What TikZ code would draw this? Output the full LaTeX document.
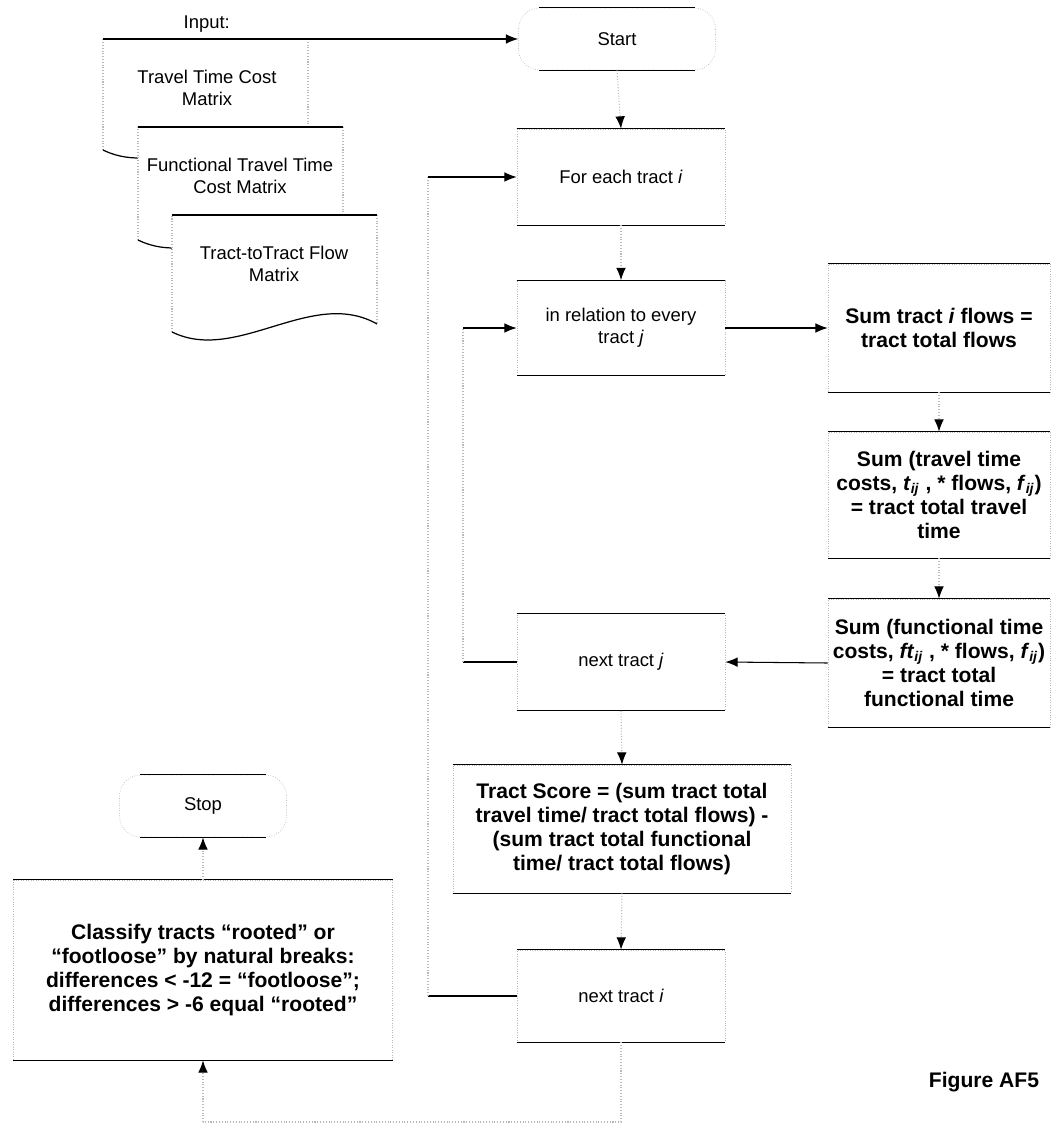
\documentclass[tikz,border=0pt]{standalone}
\usepackage{fontspec}
\setmainfont{Liberation Sans}
\usetikzlibrary{arrows.meta}

\tikzset{
  doctext/.style={align=center, font=\fontsize{10.5}{12.5}\selectfont},
  stepbox/.style={doctext, draw=gray!55, densely dotted, inner sep=2pt},
  bigbox/.style={stepbox, font=\bfseries\fontsize{12}{13.8}\selectfont},
  termbox/.style={stepbox, rounded corners=12pt},
  rim/.style={line width=0.7pt},
  faint/.style={draw=gray!55, densely dotted, line width=0.6pt},
  flow/.style={line width=0.6pt, -{Latex[length=7pt,width=5.5pt]}},
  faintflow/.style={faint, -{Latex[length=7pt,width=5.5pt,color=black]}},
}

\begin{document}
\begin{tikzpicture}[x=0.02cm, y=-0.02cm]
    \useasboundingbox (0,0) rectangle (1053,1124);

    % Stacked input documents
    \foreach \l/\t/\b in {103/39/150, 138/127/240, 172/215/332} {
        \fill[white] (\l,\b) -- (\l,\t) -- (\l+205,\t) -- (\l+205,\b-8)
            .. controls (\l+140,\b-45) and (\l+65,\b+32) .. (\l,\b);
        \draw[faint] (\l,\b) -- (\l,\t) (\l+205,\t) -- (\l+205,\b-8);
        \draw[rim] (\l,\t) -- (\l+205,\t);
        \draw[rim] (\l+205,\b-8) .. controls (\l+140,\b-45) and (\l+65,\b+32) .. (\l,\b);
    }
    \node[doctext] (costm) at (207,88) {Travel Time Cost\\Matrix};
    \node[doctext] (funcm) at (240,176) {Functional Travel Time\\Cost Matrix};
    \node[doctext] (flowm) at (274,264) {Tract-toTract Flow\\Matrix};

    % Main column
    \node[termbox, minimum width=3.94cm, minimum height=1.24cm] (start) at (617,39) {Start};
    \node[stepbox, minimum width=4.16cm, minimum height=1.92cm] (fort) at (621,177) {For each tract \textit{i}};
    \node[stepbox, minimum width=4.16cm, minimum height=1.9cm] (rel) at (621,328) {in relation to every\\tract \textit{j}};
    \node[stepbox, minimum width=4.16cm, minimum height=1.94cm] (nextj) at (621,662) {next tract \textit{j}};
    \node[bigbox, minimum width=6.76cm, minimum height=2.56cm] (score) at (622,829)
        {Tract Score = (sum tract total\\travel time/ tract total flows) -\\(sum tract total functional\\time/ tract total flows)};
    \node[stepbox, minimum width=4.16cm, minimum height=1.84cm] (nexti) at (621,996) {next tract \textit{i}};

    % Right column
    \node[bigbox, minimum width=4.44cm, minimum height=2.56cm] (sumf) at (939,328)
        {Sum tract \textit{i} flows =\\tract total flows};
    \node[bigbox, minimum width=4.44cm, minimum height=2.52cm] (sumt) at (939,495)
        {Sum (travel time\\costs, \textit{t}\textsubscript{\textit{ij}} , * flows, \textit{f}\textsubscript{\textit{ij}})\\= tract total travel\\time};
    \node[bigbox, minimum width=4.44cm, minimum height=2.56cm] (sumft) at (939,663)
        {Sum (functional time\\costs, \textit{ft}\textsubscript{\textit{ij}} , * flows, \textit{f}\textsubscript{\textit{ij}})\\= tract total\\functional time};

    % Left bottom
    \node[termbox, minimum width=3.34cm, minimum height=1.24cm] (stop) at (203,806) {Stop};
    \node[bigbox, minimum width=7.58cm, minimum height=3.6cm] (classify) at (203,970)
        {Classify tracts ``rooted'' or\\``footloose'' by natural breaks:\\differences < -12 = ``footloose'';\\differences > -6 equal ``rooted''};

    \node[font=\bfseries\fontsize{12}{14}\selectfont] (figlbl) at (984,1082) {Figure AF5};

    % Solid top and bottom rims
    \foreach \n in {fort,rel,nextj,score,nexti,sumf,sumt,sumft,classify}
        \draw[rim] (\n.north west) -- (\n.north east) (\n.south west) -- (\n.south east);
    \foreach \n in {start,stop}
        \draw[rim] ([xshift=12pt]\n.north west) -- ([xshift=-12pt]\n.north east)
            ([xshift=12pt]\n.south west) -- ([xshift=-12pt]\n.south east);

    % Connectors
    \coordinate (docin) at (103,39);
    \coordinate (jx) at (463,0);
    \coordinate (ix) at (428,0);
    \coordinate (bot) at (0,1122);
    \draw[flow] (docin) -- node[pos=0.25, above=0pt, doctext] (inlbl) {Input:} (start.west);
    \draw[faintflow] (start.south) -- (fort.north);
    \draw[faintflow] (fort.south) -- (rel.north);
    \draw[flow] (rel.east) -- (sumf.west);
    \draw[faintflow] (sumf.south) -- (sumt.north);
    \draw[faintflow] (sumt.south) -- (sumft.north);
    \draw[flow] (sumft.west) -- (nextj.east);
    \draw[faintflow] (nextj.south) -- (score.north);
    \draw[faintflow] (score.south) -- (nexti.north);
    \draw[faintflow] (classify.north) -- (stop.south);

    % Loop back over tracts j
    \draw[line width=0.6pt] (nextj.west) -- (nextj.west -| jx);
    \draw[faint] (nextj.west -| jx) -- (rel.west -| jx);
    \draw[flow] (rel.west -| jx) -- (rel.west);

    % Loop back over tracts i
    \draw[line width=0.6pt] (nexti.west) -- (nexti.west -| ix);
    \draw[faint] (nexti.west -| ix) -- (fort.west -| ix);
    \draw[flow] (fort.west -| ix) -- (fort.west);

    % Exit to classification
    \draw[faint] (nexti.south) -- (nexti.south |- bot) -- (classify.south |- bot);
    \draw[faintflow] (classify.south |- bot) -- (classify.south);

\end{tikzpicture}
\end{document}
